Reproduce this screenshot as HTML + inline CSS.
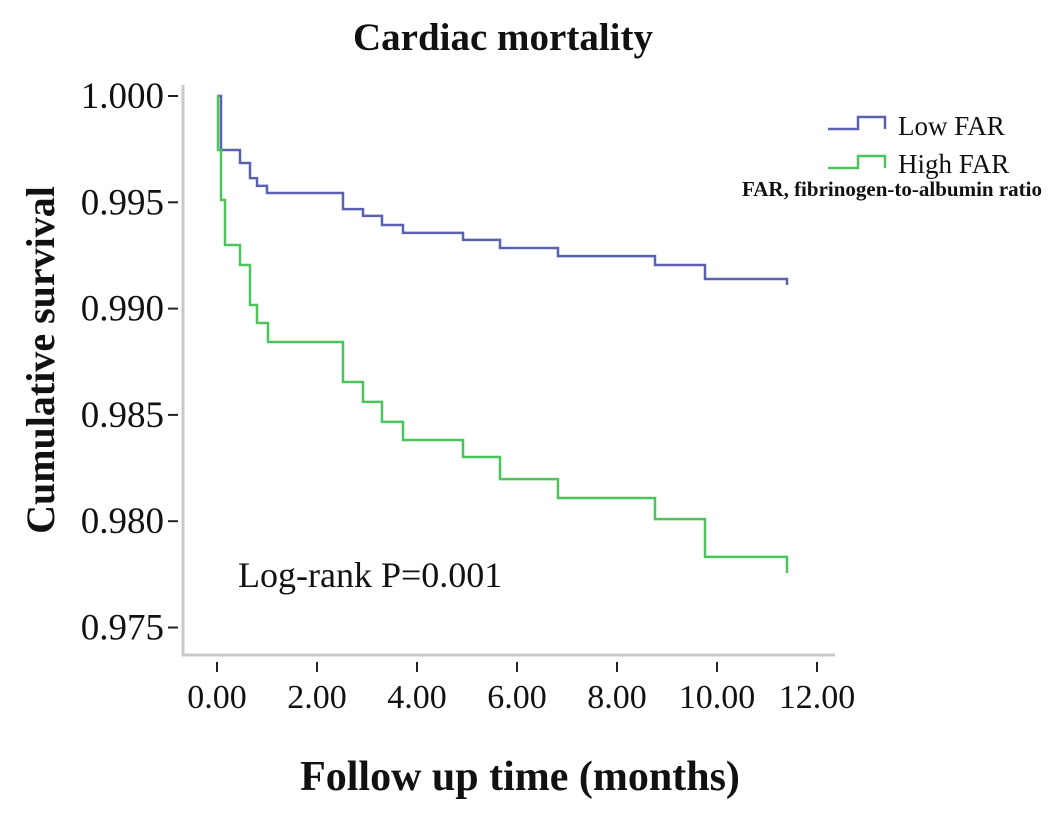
<!DOCTYPE html>
<html><head><meta charset="utf-8"><style>
body{margin:0;background:#fff;}
svg text{font-family:"Liberation Serif",serif;fill:#111;}
</style></head><body>
<svg width="1063" height="812" viewBox="0 0 1063 812">
<text x="503" y="50" font-size="39" font-weight="bold" text-anchor="middle">Cardiac mortality</text>
<text transform="translate(54,360) rotate(-90)" font-size="40" font-weight="bold" text-anchor="middle">Cumulative survival</text>
<text x="520" y="790" font-size="42" font-weight="bold" text-anchor="middle">Follow up time (months)</text>
<g id="axes"></g>
<g id="series"></g>
<text x="238" y="587" font-size="36">Log-rank P=0.001</text>
<g>
<path d="M828 129 H858 V117 H885 V129" fill="none" stroke="#5a62b0" stroke-width="2.5"/>
<text x="898" y="135" font-size="27">Low FAR</text>
<path d="M828 168 H858 V156 H885 V168" fill="none" stroke="#4cc45c" stroke-width="2.5"/>
<text x="898" y="173" font-size="27">High FAR</text>
<text x="1042" y="196" font-size="21" text-anchor="end" style="font-weight:600">FAR, fibrinogen-to-albumin ratio</text>
</g>
</svg>
<script>
const xTicks=[0,2,4,6,8,10,12];
const xTickLabels=["0.00","2.00","4.00","6.00","8.00","10.00","12.00"];
const yTicks=[1.000,0.995,0.990,0.985,0.980,0.975];
const yTickLabels=["1.000","0.995","0.990","0.985","0.980","0.975"];
const lowTimes=[0,0.08,0.46,0.66,0.8,1.0,2.52,2.92,3.3,3.72,4.92,5.66,6.82,8.76,9.76];
const lowValues=[1.0,0.99746,0.99685,0.99614,0.99577,0.99544,0.99468,0.99436,0.99393,0.99356,0.99323,0.99285,0.99247,0.99205,0.99139];
const lowEnd=11.4;
const highTimes=[0,0.02,0.08,0.16,0.46,0.66,0.8,1.02,2.52,2.92,3.3,3.72,4.92,5.66,6.82,8.76,9.76,11.4];
const highValues=[1.0,0.99746,0.99511,0.99299,0.99205,0.99017,0.98932,0.98843,0.98655,0.98561,0.98467,0.98382,0.98302,0.98198,0.98109,0.98010,0.97832,0.97756];
const highEnd=11.4;
const NS="http://www.w3.org/2000/svg";
const xs=m=>217+m*50;
const ys=v=>96+(1-v)/0.005*106.3;
const axes=document.getElementById('axes');
function mk(tag,attrs,parent){const e=document.createElementNS(NS,tag);for(const k in attrs)e.setAttribute(k,attrs[k]);parent.appendChild(e);return e;}
let yl=mk('line',{x1:183,y1:85,x2:183,y2:656,stroke:'#c8c8c8','stroke-width':3},axes);


let xl=mk('line',{x1:182,y1:655,x2:835,y2:655,stroke:'#c8c8c8','stroke-width':3},axes);


yTicks.forEach((v,i)=>{
 const t=mk('line',{x1:168,x2:178,y1:ys(v),y2:ys(v),stroke:'#222','stroke-width':2},axes);
 
 
 const l=mk('text',{x:164,y:ys(v)+12,'font-size':37,'text-anchor':'end'},axes);
 l.textContent=yTickLabels[i];
 
 
});
xTicks.forEach((m,i)=>{
 const t=mk('line',{x1:xs(m),x2:xs(m),y1:662,y2:672,stroke:'#222','stroke-width':2},axes);
 
 
 const l=mk('text',{x:xs(m),y:708,'font-size':34,'text-anchor':'middle'},axes);
 l.textContent=xTickLabels[i];
 
 
});
function stepPath(t,v,end,extraDrop){
 let d='M'+xs(t[0])+' '+ys(v[0]);
 for(let i=1;i<t.length;i++){d+=' H'+xs(t[i])+' V'+ys(v[i]);}
 if(xs(end)>xs(t[t.length-1]))d+=' H'+xs(end);
 d+=' V'+(ys(v[v.length-1])+extraDrop);
 return d;
}
const ser=document.getElementById('series');
const pl=mk('path',{d:stepPath(lowTimes,lowValues,lowEnd,6),fill:'none',stroke:'#5a62b0','stroke-width':2.5},ser);


const ph=mk('path',{d:stepPath(highTimes,highValues,highEnd,0),fill:'none',stroke:'#4cc45c','stroke-width':2.5},ser);


</script>
</body></html>
